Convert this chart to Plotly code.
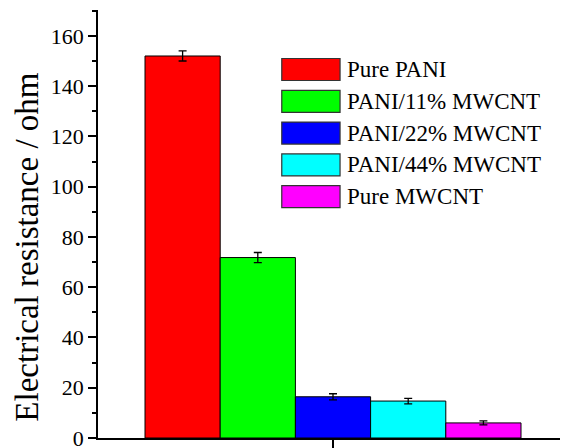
import plotly.graph_objects as go

names = ["Pure PANI", "PANI/11% MWCNT", "PANI/22% MWCNT", "PANI/44% MWCNT", "Pure MWCNT"]
values = [152.0, 71.8, 16.4, 14.7, 6.0]
errors = [2.0, 2.0, 1.2, 1.1, 0.8]
colors = ["#FF0000", "#00FF00", "#0000FF", "#00FFFF", "#FF00FF"]
y_title = "Electrical resistance / ohm"

FONT = "Times New Roman, Liberation Serif, serif"

fig = go.Figure()
for n, v, e, c in zip(names, values, errors, colors):
    fig.add_trace(go.Bar(
        x=[""], y=[v], name=n,
        marker=dict(color=c, line=dict(color="#000000", width=1)),
        error_y=dict(type="data", array=[e], color="#000000", thickness=1.3, width=4),
        showlegend=False,
    ))

# manual legend (large swatches)
leg_x0, leg_x1 = 0.391, 0.515
row_top_px = 58.5
row_step_px = 31.8
box_h_px = 22
plot_h = 428
for i, (n, c) in enumerate(zip(names, colors)):
    top = row_top_px + i * row_step_px - 10
    y1 = 1 - top / plot_h
    y0 = 1 - (top + box_h_px) / plot_h
    fig.add_shape(type="rect", xref="paper", yref="paper",
                  x0=leg_x0, x1=leg_x1, y0=y0, y1=y1,
                  fillcolor=c, line=dict(color="#333333", width=1.2))
    fig.add_annotation(xref="paper", yref="paper", x=leg_x1 + 0.01, y=(y0 + y1) / 2,
                       text=n, showarrow=False, xanchor="left", yanchor="middle",
                       font=dict(family=FONT, size=23, color="#000000"))

# y-axis title
fig.add_annotation(xref="paper", yref="paper", x=-0.153, y=0.445, text=y_title,
                   textangle=-90, showarrow=False, xanchor="center", yanchor="middle",
                   font=dict(family=FONT, size=33, color="#000000"))

fig.update_layout(
    width=560, height=440,
    margin=dict(l=90, r=0, t=2, b=10, autoexpand=False),
    paper_bgcolor="white", plot_bgcolor="white",
    barmode="group", bargap=0.2, bargroupgap=0,
    font=dict(family=FONT, color="#000000"),
)
fig.update_xaxes(
    type="category", showticklabels=False, showline=True, linecolor="#000000", linewidth=1.5,
    ticks="outside", ticklen=9, tickwidth=1.5, tickcolor="#000000",
    showgrid=False, zeroline=False,
)
fig.update_yaxes(
    range=[0, 170.3], showline=True, linecolor="#000000", linewidth=1.5,
    ticks="outside", ticklen=8, tickwidth=1.5, tickcolor="#000000", dtick=20,
    minor=dict(dtick=10, ticks="outside", ticklen=4, tickwidth=1.5, tickcolor="#000000"),
    showgrid=False, zeroline=False, automargin=False, ticklabeloverflow="allow",
    tickfont=dict(family=FONT, size=22, color="#000000"),
)

fig.write_html("out.html")
